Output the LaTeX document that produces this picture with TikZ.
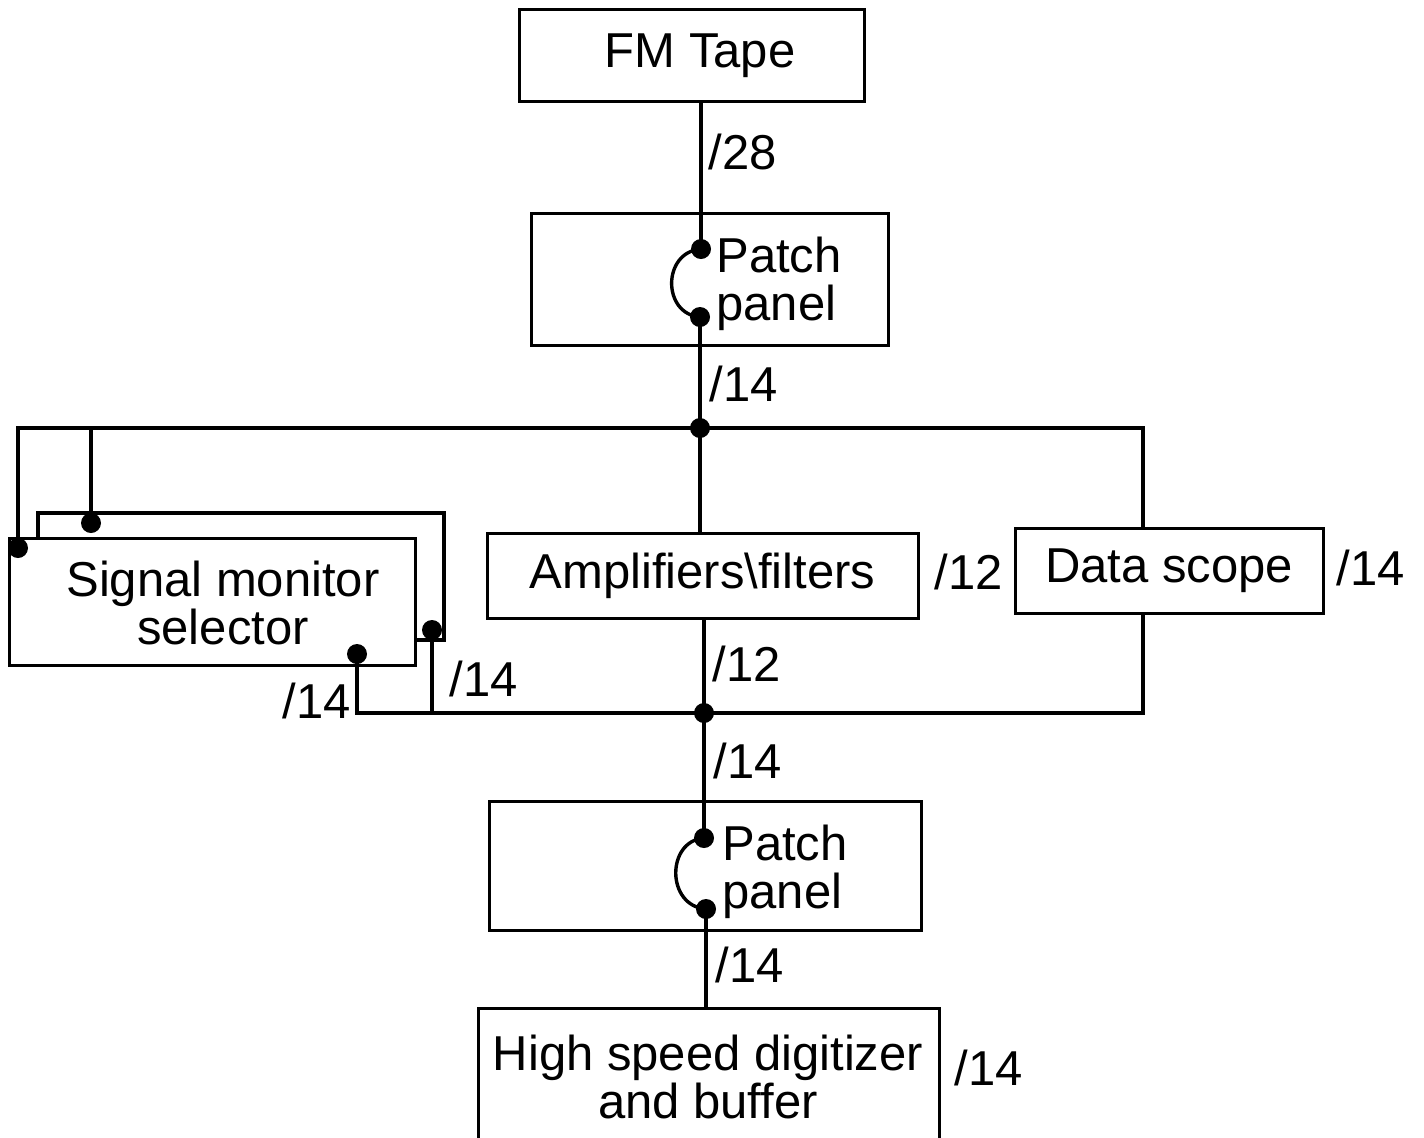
\documentclass[tikz,border=0pt]{standalone}
\usepackage{fontspec}
\setmainfont{Liberation Sans}
\begin{document}
\begin{tikzpicture}[x=0.5pt,y=-0.5pt,
  wire/.style={line width=1.7pt},
  blk/.style={draw,line width=1.5pt,inner sep=0pt,align=center,
    font=\fontsize{24.5}{24}\selectfont},
  lbl/.style={font=\fontsize{24.5}{24}\selectfont,inner sep=0pt},
  jdot/.style={circle,fill,inner sep=0pt,minimum size=10pt}]
\useasboundingbox (0,0) rectangle (1424,1137);
\clip (0,0) rectangle (1424,1137);

% blocks
\node[blk,minimum width=172.5pt,minimum height=46pt] (fm) at (691.5,55) {};
\node[lbl] (fmtxt) at (700,56) {FM Tape};
\node[blk,minimum width=178.5pt,minimum height=66pt] (pp1) at (709.5,279) {};
\node[blk,minimum width=203pt,minimum height=63.5pt] (sms) at (212,602) {};
\node[lbl,align=center] (smstxt) at (223,603) {Signal monitor\\selector};
\node[blk,minimum width=215.5pt,minimum height=42.5pt] (amp) at (702.5,576) {Amplifiers\textbackslash filters};
\node[blk,minimum width=154pt,minimum height=42.5pt] (ds) at (1169,571) {Data scope};
\node[blk,minimum width=216pt,minimum height=64.5pt] (pp2) at (705,865.5) {};
\node[blk,minimum width=230.5pt,minimum height=76pt] (hs) at (708.5,1084) {};
\node[lbl,align=center] (hstxt) at (708,1077) {High speed digitizer\\and buffer};

% patch panel captions
\node[lbl,align=left,anchor=west] (pp1txt) at (716,284) {Patch\\panel};
\node[lbl,align=left,anchor=west] (pp2txt) at (722,872) {Patch\\panel};

% connection points
\coordinate (p1t) at (701,249);
\coordinate (p1b) at (700,317);
\coordinate (p2t) at (704,838);
\coordinate (p2b) at (706,909);
\coordinate (j1) at (700,428);
\coordinate (j2) at (704,713);
\coordinate (s1) at (18,548);
\coordinate (s2) at (91,523);
\coordinate (s3) at (432,630);
\coordinate (s4) at (357,654);
\coordinate (dsT) at (1143,527);
\coordinate (dsB) at (1143,612);

% rear outline of the selector
\draw[wire] (38,537) -- (38,513) -- (444,513) -- (444,640) -- (415,640);

% wiring
\draw[wire] (p1t |- fm.south) -- (p1t);
\draw[wire] (p1t) .. controls (662,252) and (662,314) .. (p1b);
\draw[wire] (p1b) -- (j1);
\draw[wire] (j1) -| (s1);
\draw[wire] (s2 |- j1) -- (s2);
\draw[wire] (j1) -- (j1 |- amp.north);
\draw[wire] (j1) -| (dsT);
\draw[wire] (j2 |- amp.south) -- (j2);
\draw[wire] (j2) -| (dsB);
\draw[wire] (s4) |- (j2);
\draw[wire] (s3) -- (s3 |- j2);
\draw[wire] (j2) -- (p2t);
\draw[wire] (p2t) .. controls (666,841) and (666,906) .. (p2b);
\draw[wire] (p2b) -- (p2b |- hs.north);

% junction dots
\foreach \c in {p1t,p1b,p2t,p2b,j1,j2,s1,s2,s3,s4}
  \node[jdot] at (\c) {};

% channel counts
\node[lbl,anchor=west] (n28) at (708,152) {/28};
\node[lbl,anchor=west] (n14a) at (709,384) {/14};
\node[lbl,anchor=west] (n12a) at (934,572) {/12};
\node[lbl,anchor=west] (n14b) at (1336,568) {/14};
\node[lbl,anchor=west] (n12b) at (712,664) {/12};
\node[lbl,anchor=west] (n14c) at (282,701) {/14};
\node[lbl,anchor=west] (n14d) at (449,679) {/14};
\node[lbl,anchor=west] (n14e) at (713,761) {/14};
\node[lbl,anchor=west] (n14f) at (715,965) {/14};
\node[lbl,anchor=west] (n14g) at (954,1068) {/14};
\end{tikzpicture}
\end{document}
